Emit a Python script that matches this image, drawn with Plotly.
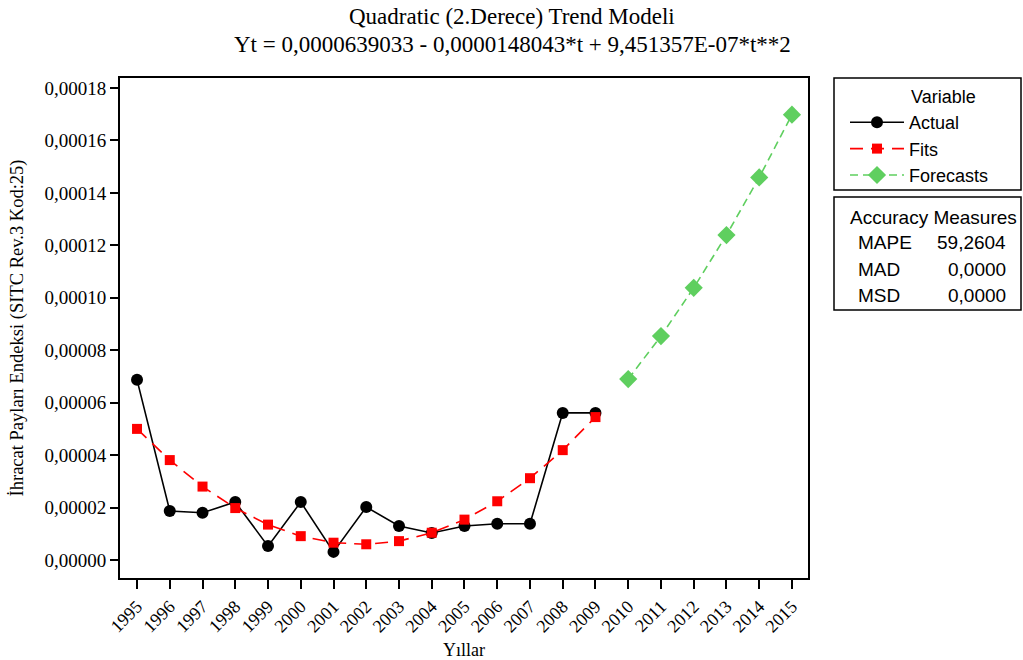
import plotly.graph_objects as go

years_actual = list(range(1995, 2010))
actual = [6.87e-5, 1.87e-5, 1.80e-5, 2.21e-5, 0.53e-5, 2.21e-5, 0.31e-5, 2.02e-5,
          1.30e-5, 1.03e-5, 1.30e-5, 1.38e-5, 1.38e-5, 5.61e-5, 5.61e-5]
fits = [5.00e-5, 3.81e-5, 2.80e-5, 1.98e-5, 1.35e-5, 0.91e-5, 0.66e-5, 0.60e-5,
        0.72e-5, 1.04e-5, 1.54e-5, 2.24e-5, 3.12e-5, 4.19e-5, 5.45e-5]
years_fc = list(range(2010, 2016))
forecasts = [6.90e-5, 8.54e-5, 10.38e-5, 12.39e-5, 14.59e-5, 16.98e-5]

ytick_vals = [0, 0.00002, 0.00004, 0.00006, 0.00008, 0.0001, 0.00012, 0.00014, 0.00016, 0.00018]
ytick_text = ["0,00000", "0,00002", "0,00004", "0,00006", "0,00008", "0,00010",
              "0,00012", "0,00014", "0,00016", "0,00018"]
xtick_vals = list(range(1995, 2016))

title_lines = ["Quadratic (2.Derece) Trend Modeli",
               "Yt = 0,0000639033 - 0,0000148043*t + 9,451357E-07*t**2"]
acc_labels = ["MAPE", "MAD", "MSD"]
acc_values = ["59,2604", "0,0000", "0,0000"]

serif = "Liberation Serif, Times New Roman, serif"
sans = "Liberation Sans, Arial, sans-serif"

fig = go.Figure()
fig.add_trace(go.Scatter(x=years_actual, y=actual, mode="lines+markers", name="Actual",
                         line=dict(color="black", width=1.6),
                         marker=dict(symbol="circle", size=12, color="black")))
fig.add_trace(go.Scatter(x=years_actual, y=fits, mode="lines+markers", name="Fits",
                         line=dict(color="#ff0000", width=1.6, dash="13px,8px"),
                         marker=dict(symbol="square", size=10, color="#ff0000")))
fig.add_trace(go.Scatter(x=years_fc, y=forecasts, mode="lines+markers", name="Forecasts",
                         line=dict(color="#5fcf5f", width=1.6, dash="8px,5px"),
                         marker=dict(symbol="diamond", size=14, color="#5fcf5f")))

L, R, T, B = 120, 215, 78, 82
pw = 1023 - L - R
ph = 660 - T - B
def px(xp):
    return (xp - L) / pw
def py(yp):
    return (660 - B - yp) / ph

fig.update_layout(
    width=1023, height=660,
    margin=dict(l=L, r=R, t=T, b=B, autoexpand=False),
    paper_bgcolor="white", plot_bgcolor="white",
    legend=dict(x=px(845), xanchor="left", y=py(104), yanchor="top",
                borderwidth=0, bgcolor="rgba(0,0,0,0)",
                font=dict(family=sans, size=18, color="black"),
                itemwidth=54, tracegroupgap=0),
    xaxis=dict(range=[1994.48, 2015.49], tickvals=xtick_vals, ticktext=[str(v) for v in xtick_vals],
               tickangle=-45, ticks="outside", ticklen=9, tickwidth=2, tickcolor="black",
               showline=True, linecolor="black", linewidth=2, mirror=True, showgrid=False,
               zeroline=False, automargin=False,
               tickfont=dict(family=serif, size=18, color="black"),
               title=dict(text="Yıllar", font=dict(family=serif, size=18, color="black"), standoff=8)),
    yaxis=dict(range=[-0.00000686, 0.0001838], tickvals=ytick_vals, ticktext=ytick_text,
               ticks="outside", ticklen=8, tickwidth=2, tickcolor="black",
               showline=True, linecolor="black", linewidth=2, mirror=True, showgrid=False,
               zeroline=False, automargin=False,
               tickfont=dict(family=serif, size=19, color="black"),
               title=dict(text="İhracat Payları Endeksi (SITC Rev.3 Kod:25)",
                          font=dict(family=serif, size=18.5, color="black"), standoff=16)),
)

# Title (two centred lines)
for i, line in enumerate(title_lines):
    fig.add_annotation(xref="paper", yref="paper", x=px(512), y=py(17 + i * 28), text=line,
                       showarrow=False, xanchor="center", yanchor="middle",
                       font=dict(family=serif, size=23, color="black"))

# Legend frame and title
fig.add_shape(type="rect", xref="paper", yref="paper",
              x0=px(834), x1=px(1021), y0=py(190), y1=py(78),
              line=dict(color="black", width=1.5), fillcolor="white", layer="below")
fig.add_annotation(xref="paper", yref="paper", x=px(909), y=py(97), text="Variable",
                   showarrow=False, xanchor="left", yanchor="middle",
                   font=dict(family=sans, size=18, color="black"))

# Accuracy measures box
fig.add_shape(type="rect", xref="paper", yref="paper",
              x0=px(834), x1=px(1021), y0=py(310), y1=py(197),
              line=dict(color="black", width=1.5), fillcolor="white")
fig.add_annotation(xref="paper", yref="paper", x=px(933), y=py(217), text="Accuracy Measures",
                   showarrow=False, xanchor="center", yanchor="middle",
                   font=dict(family=sans, size=19, color="black"))
for i, (lab, val) in enumerate(zip(acc_labels, acc_values)):
    yy = py(243 + i * 26)
    fig.add_annotation(xref="paper", yref="paper", x=px(856), y=yy, text=lab, showarrow=False,
                       xanchor="left", yanchor="middle", font=dict(family=sans, size=19, color="black"))
    fig.add_annotation(xref="paper", yref="paper", x=px(1008), y=yy, text=val, showarrow=False,
                       xanchor="right", yanchor="middle", font=dict(family=sans, size=19, color="black"))

fig.write_html("out.html", post_script="document.body.style.margin='0';",
               config={"displayModeBar": False})
